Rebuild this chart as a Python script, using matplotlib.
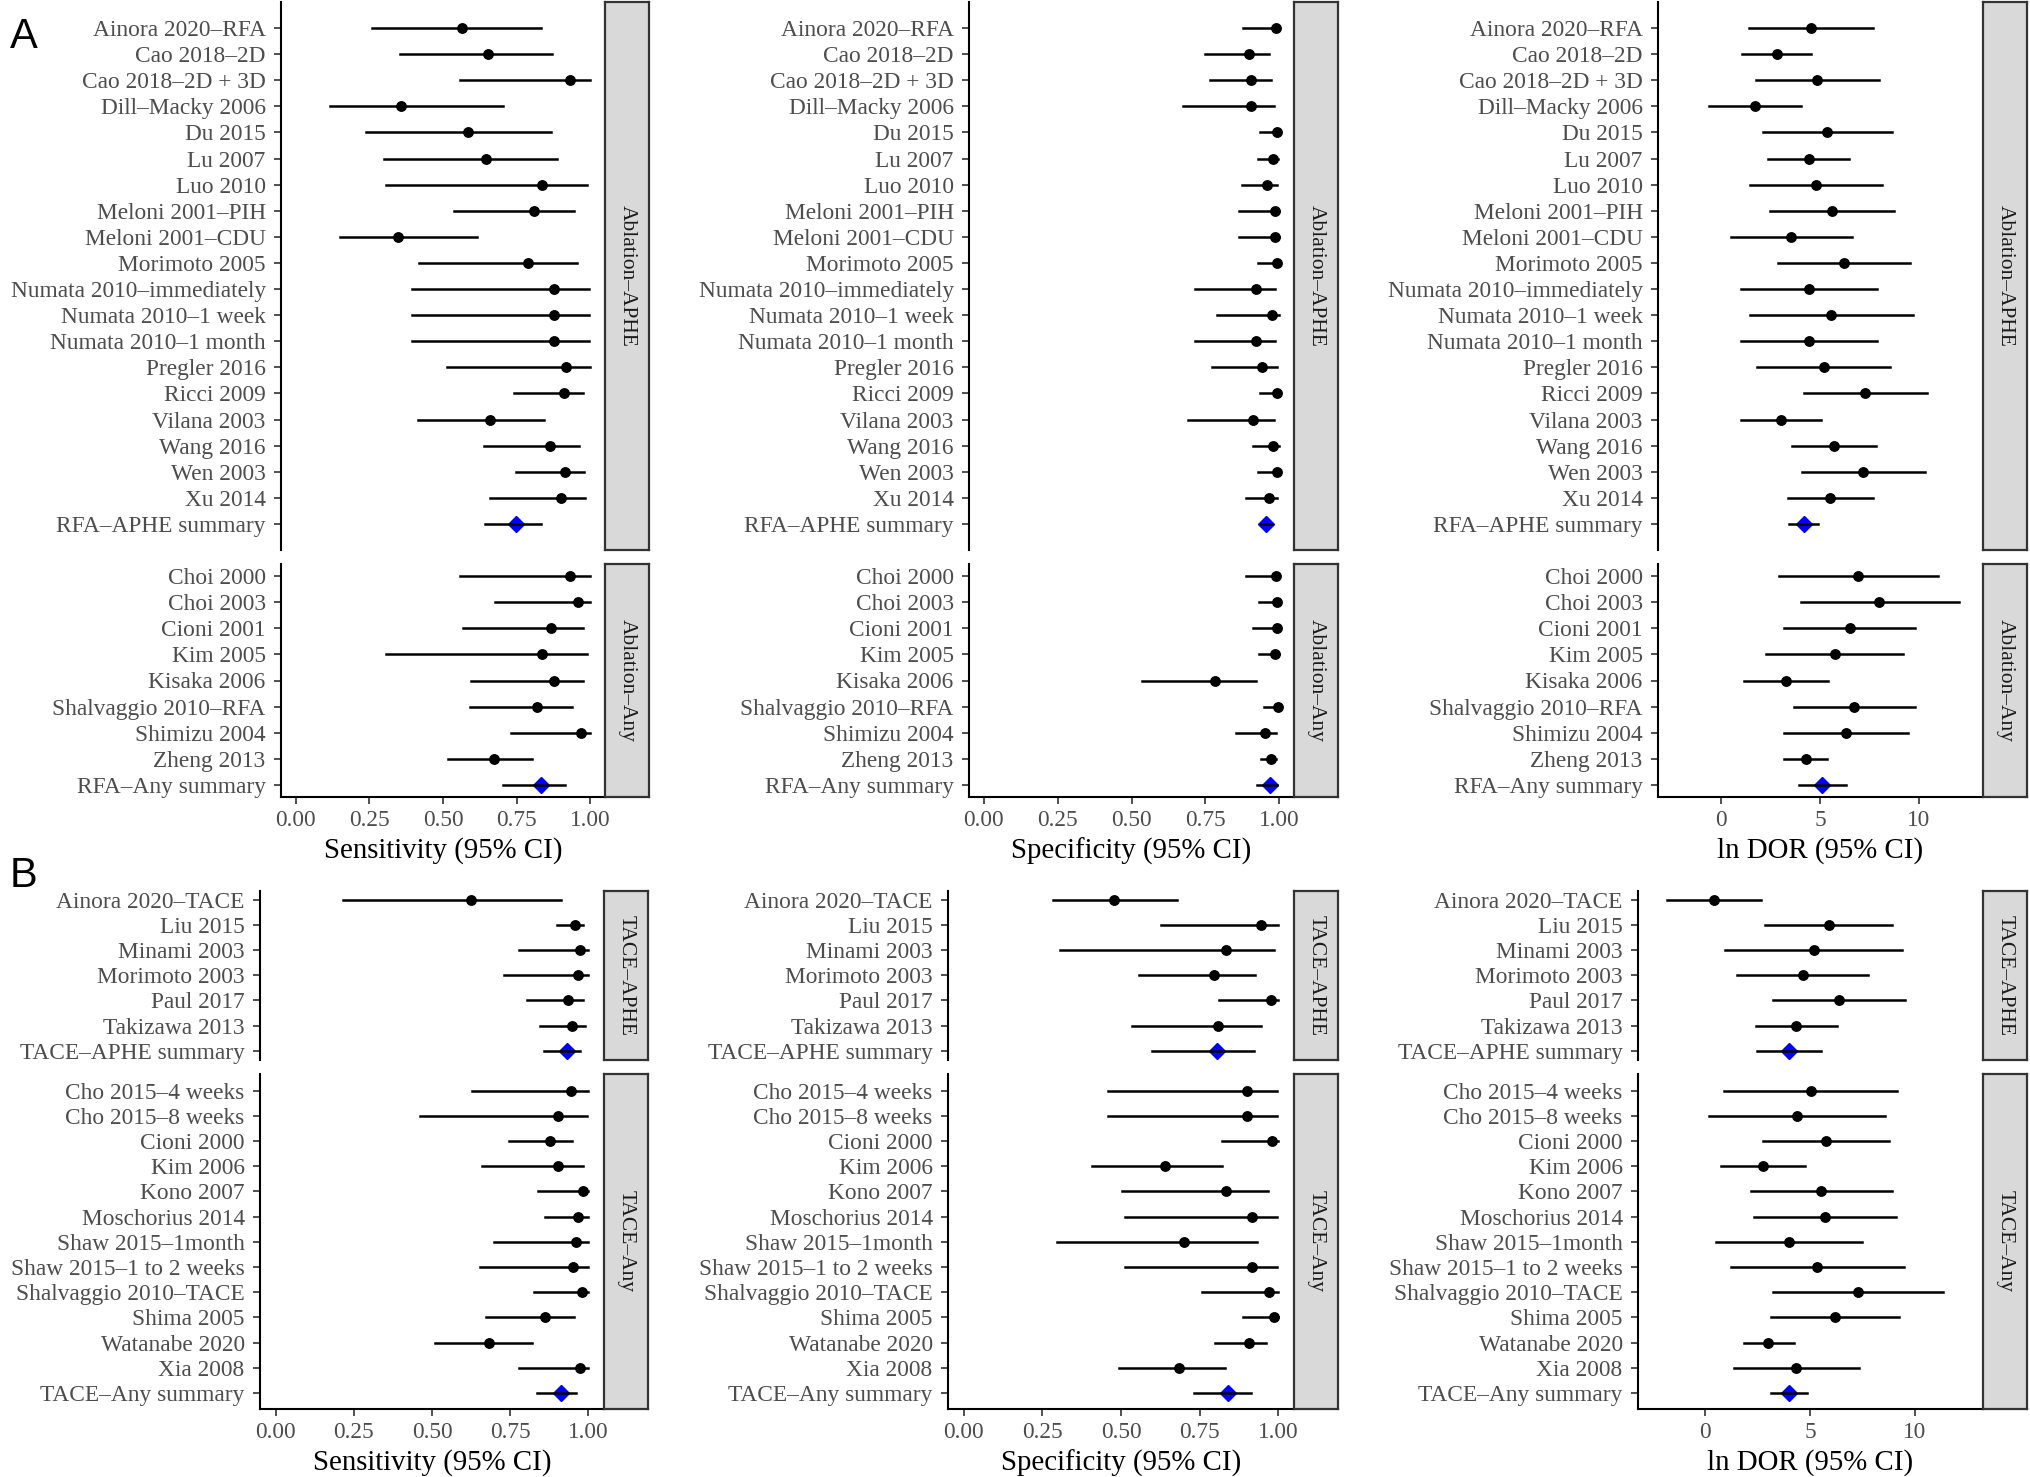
import numpy as np
import matplotlib.pyplot as plt

plt.rcParams['font.family'] = ['Liberation Serif', 'DejaVu Serif']

W, H = 2030, 1477

# ---------------- panel A: ablation ----------------
a_aphe_names = ["Ainora 2020–RFA", "Cao 2018–2D", "Cao 2018–2D + 3D", "Dill–Macky 2006",
                "Du 2015", "Lu 2007", "Luo 2010", "Meloni 2001–PIH", "Meloni 2001–CDU",
                "Morimoto 2005", "Numata 2010–immediately", "Numata 2010–1 week",
                "Numata 2010–1 month", "Pregler 2016", "Ricci 2009", "Vilana 2003",
                "Wang 2016", "Wen 2003", "Xu 2014", "RFA–APHE summary"]
# (estimate, lower, upper)
a_aphe_sens = [(0.564, 0.258, 0.832), (0.652, 0.353, 0.870), (0.931, 0.559, 1.000),
               (0.359, 0.116, 0.703), (0.585, 0.240, 0.868), (0.646, 0.301, 0.888),
               (0.836, 0.307, 0.990), (0.809, 0.536, 0.945), (0.347, 0.149, 0.617),
               (0.788, 0.419, 0.955), (0.877, 0.394, 0.994), (0.877, 0.394, 0.994),
               (0.877, 0.394, 0.994), (0.919, 0.515, 0.998), (0.910, 0.741, 0.977),
               (0.658, 0.414, 0.843), (0.863, 0.638, 0.963), (0.913, 0.749, 0.979),
               (0.902, 0.659, 0.983), (0.748, 0.642, 0.834)]
a_aphe_spec = [(0.988, 0.877, 0.999), (0.897, 0.748, 0.967), (0.905, 0.766, 0.971),
               (0.906, 0.674, 0.983), (0.994, 0.936, 1.000), (0.979, 0.928, 0.997),
               (0.960, 0.875, 0.993), (0.985, 0.863, 1.000), (0.985, 0.863, 1.000),
               (0.993, 0.929, 1.000), (0.921, 0.716, 0.986), (0.974, 0.788, 1.000),
               (0.921, 0.716, 0.986), (0.941, 0.774, 0.991), (0.994, 0.936, 1.000),
               (0.912, 0.690, 0.983), (0.980, 0.912, 0.999), (0.993, 0.927, 1.000),
               (0.965, 0.888, 0.994), (0.956, 0.937, 0.975)]
a_aphe_dor = [(4.54, 1.39, 7.70), (2.81, 1.08, 4.57), (4.86, 1.75, 7.97), (1.73, -0.59, 4.05),
              (5.36, 2.10, 8.61), (4.42, 2.39, 6.44), (4.81, 1.48, 8.13), (5.60, 2.45, 8.74),
              (3.55, 0.49, 6.61), (6.22, 2.86, 9.56), (4.44, 0.99, 7.87), (5.58, 1.48, 9.70),
              (4.44, 0.99, 7.87), (5.18, 1.82, 8.54), (7.29, 4.18, 10.40), (3.03, 1.01, 5.03),
              (5.71, 3.58, 7.85), (7.19, 4.10, 10.30), (5.51, 3.38, 7.66), (4.18, 3.45, 4.92)]

a_any_names = ["Choi 2000", "Choi 2003", "Cioni 2001", "Kim 2005", "Kisaka 2006",
               "Shalvaggio 2010–RFA", "Shimizu 2004", "Zheng 2013", "RFA–Any summary"]
a_any_sens = [(0.932, 0.559, 1.000), (0.957, 0.678, 1.000), (0.867, 0.568, 0.974),
              (0.836, 0.307, 0.990), (0.878, 0.595, 0.976), (0.818, 0.593, 0.937),
              (0.967, 0.731, 1.000), (0.673, 0.516, 0.801), (0.832, 0.704, 0.914)]
a_any_spec = [(0.989, 0.888, 1.000), (0.994, 0.933, 1.000), (0.992, 0.911, 1.000),
              (0.985, 0.930, 1.000), (0.782, 0.534, 0.921), (0.997, 0.947, 1.000),
              (0.951, 0.853, 0.989), (0.972, 0.938, 0.988), (0.970, 0.924, 0.992)]
a_any_dor = [(6.94, 2.92, 10.97), (8.00, 4.02, 12.00), (6.50, 3.18, 9.82), (5.75, 2.27, 9.21),
             (3.26, 1.14, 5.38), (6.72, 3.68, 9.78), (6.30, 3.18, 9.43), (4.27, 3.19, 5.33),
             (5.09, 3.92, 6.32)]

# ---------------- panel B: TACE ----------------
b_aphe_names = ["Ainora 2020–TACE", "Liu 2015", "Minami 2003", "Morimoto 2003",
                "Paul 2017", "Takizawa 2013", "TACE–APHE summary"]
b_aphe_sens = [(0.626, 0.217, 0.913), (0.957, 0.901, 0.984), (0.973, 0.779, 1.000),
               (0.966, 0.731, 1.000), (0.934, 0.803, 0.984), (0.949, 0.845, 0.989),
               (0.933, 0.859, 0.972)]
b_aphe_spec = [(0.477, 0.285, 0.678), (0.945, 0.626, 0.999), (0.834, 0.306, 0.987),
               (0.795, 0.556, 0.927), (0.978, 0.812, 1.000), (0.808, 0.534, 0.944),
               (0.804, 0.599, 0.922)]
b_aphe_dor = [(0.43, -1.79, 2.68), (5.90, 2.87, 8.92), (5.17, 0.98, 9.37), (4.65, 1.54, 7.76),
              (6.40, 3.25, 9.52), (4.33, 2.41, 6.27), (4.00, 2.49, 5.54)]

b_any_names = ["Cho 2015–4 weeks", "Cho 2015–8 weeks", "Cioni 2000", "Kim 2006",
               "Kono 2007", "Moschorius 2014", "Shaw 2015–1month", "Shaw 2015–1 to 2 weeks",
               "Shalvaggio 2010–TACE", "Shima 2005", "Watanabe 2020", "Xia 2008",
               "TACE–Any summary"]
b_any_sens = [(0.946, 0.627, 0.999), (0.902, 0.461, 0.995), (0.877, 0.745, 0.948),
              (0.902, 0.659, 0.982), (0.983, 0.839, 1.000), (0.967, 0.861, 0.998),
              (0.961, 0.698, 1.000), (0.951, 0.653, 1.000), (0.980, 0.827, 1.000),
              (0.861, 0.674, 0.953), (0.683, 0.510, 0.820), (0.973, 0.779, 1.000),
              (0.913, 0.837, 0.959)]
b_any_spec = [(0.900, 0.460, 0.995), (0.900, 0.460, 0.995), (0.979, 0.820, 1.000),
              (0.641, 0.408, 0.822), (0.834, 0.504, 0.966), (0.917, 0.513, 0.997),
              (0.700, 0.295, 0.932), (0.917, 0.513, 0.997), (0.969, 0.756, 1.000),
              (0.988, 0.888, 1.000), (0.906, 0.800, 0.962), (0.684, 0.494, 0.832),
              (0.840, 0.731, 0.912)]
b_any_dor = [(5.03, 0.90, 9.16), (4.40, 0.22, 8.59), (5.76, 2.78, 8.75), (2.78, 0.78, 4.78),
             (5.54, 2.19, 8.90), (5.73, 2.35, 9.10), (4.00, 0.54, 7.46), (5.35, 1.24, 9.46),
             (7.29, 3.25, 11.32), (6.19, 3.13, 9.25), (3.02, 1.84, 4.22), (4.33, 1.37, 7.32),
             (4.00, 3.13, 4.84)]

prop_ticks = [0, 0.25, 0.5, 0.75, 1.0]
prop_labels = ["0.00", "0.25", "0.50", "0.75", "1.00"]
dor_ticks = [0, 5, 10]
dor_labels = ["0", "5", "10"]

fig = plt.figure(figsize=(W / 100, H / 100), dpi=100)


def px_axes(x0, y0, x1, y1):
    return fig.add_axes([x0 / W, 1 - y1 / H, (x1 - x0) / W, (y1 - y0) / H])


def forest(box, names, vals, xlim, pads, strip, show_x=False, ticks=None, labels=None, xlabel=None):
    x0, y0, x1, y1 = box
    ax = px_axes(x0, y0, x1, y1)
    n = len(names)
    for i, (est, lo, hi) in enumerate(vals):
        if i == n - 1:
            ax.plot(est, i, marker='D', color='blue', ms=8.5, mec='blue', zorder=3)
            ax.plot([lo, hi], [i, i], color='black', lw=1.8, zorder=4)
        else:
            ax.plot([lo, hi], [i, i], color='black', lw=1.8, zorder=3)
            ax.plot(est, i, 'o', color='black', ms=6.8, zorder=4)
    ax.set_xlim(xlim)
    ax.set_ylim(n - 1 + pads[1], -pads[0])
    ax.set_yticks(range(n))
    ax.set_yticklabels(names)
    for s in ['top', 'right']:
        ax.spines[s].set_visible(False)
    ax.spines['left'].set_linewidth(1.5)
    ax.spines['bottom'].set_linewidth(1.5)
    ax.tick_params(axis='both', length=5, width=1.2, color='#333333', labelcolor='#4D4D4D',
                   labelsize=16.8)
    ax.tick_params(axis='y', pad=6)
    ax.tick_params(axis='x', pad=4)
    if show_x:
        ax.set_xticks(ticks)
        ax.set_xticklabels(labels)
        ax.set_xlabel(xlabel, fontsize=20.8, labelpad=5)
    else:
        ax.spines['bottom'].set_visible(False)
        ax.set_xticks([])
    # facet strip
    st = px_axes(x1, y0, x1 + 44, y1)
    st.set_facecolor('#D9D9D9')
    st.set_xticks([])
    st.set_yticks([])
    for s in st.spines.values():
        s.set_color('#333333')
        s.set_linewidth(1.6)
    st.text(0.5, 0.5, strip, rotation=270, ha='center', va='center', fontsize=15.5,
            color='#1A1A1A', transform=st.transAxes)
    return ax


dor_lim = (-3.18, 13.23)
prop_lim = (-0.05, 1.05)

# pixel extents (left, right) of each column
a_cols = [(281, 605), (969, 1294), (1658, 1983)]
b_cols = [(260, 604), (948, 1294), (1638, 1983)]

a_top = [a_aphe_sens, a_aphe_spec, a_aphe_dor]
a_bot = [a_any_sens, a_any_spec, a_any_dor]
b_top = [b_aphe_sens, b_aphe_spec, b_aphe_dor]
b_bot = [b_any_sens, b_any_spec, b_any_dor]
lims = [prop_lim, prop_lim, dor_lim]
tks = [prop_ticks, prop_ticks, dor_ticks]
tls = [prop_labels, prop_labels, dor_labels]
titles = ["Sensitivity (95% CI)", "Specificity (95% CI)", "ln DOR (95% CI)"]

for k in range(3):
    l, r = a_cols[k]
    forest((l, 2, r, 550), a_aphe_names, a_top[k], lims[k], (1.0, 1.0), "Ablation–APHE")
    forest((l, 564, r, 797), a_any_names, a_bot[k], lims[k], (0.47, 0.47), "Ablation–Any",
           True, tks[k], tls[k], titles[k])
    l, r = b_cols[k]
    forest((l, 891, r, 1060), b_aphe_names, b_top[k], lims[k], (0.35, 0.37), "TACE–APHE")
    forest((l, 1074, r, 1409), b_any_names, b_bot[k], lims[k], (0.66, 0.63), "TACE–Any",
           True, tks[k], tls[k], titles[k])

fig.text(10 / W, 1 - 37 / H, "A", family=['Liberation Sans', 'DejaVu Sans'], fontsize=30,
         ha='left', va='center')
fig.text(10 / W, 1 - 876 / H, "B", family=['Liberation Sans', 'DejaVu Sans'], fontsize=30,
         ha='left', va='center')

fig.savefig("out.png", dpi=100)
